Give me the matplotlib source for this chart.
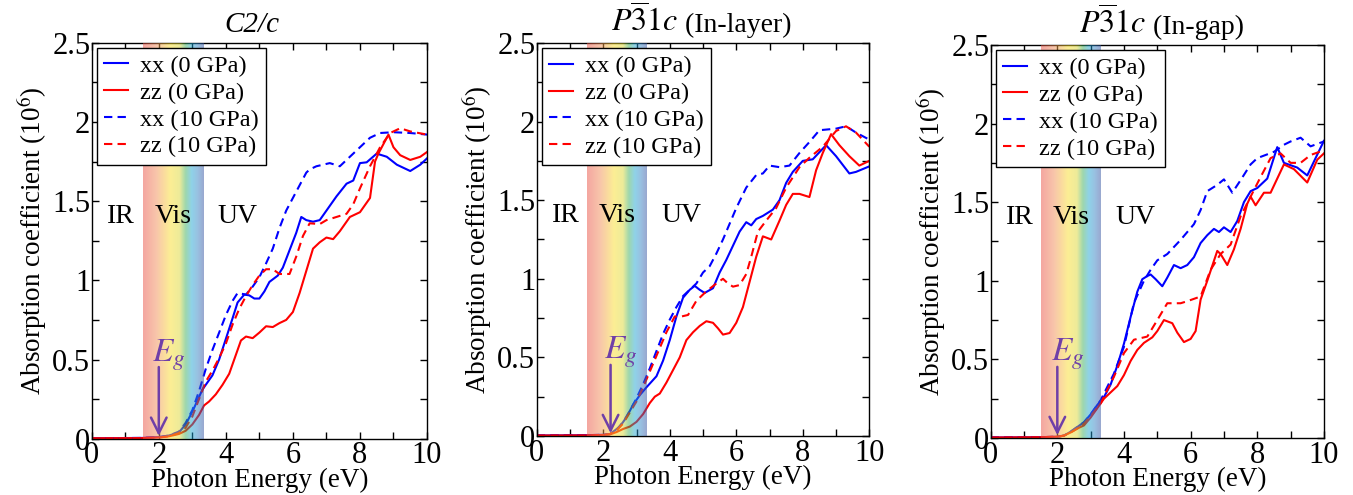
import numpy as np
import matplotlib
matplotlib.use("Agg")
import matplotlib.pyplot as plt
from matplotlib.colors import LinearSegmentedColormap
from matplotlib.ticker import MultipleLocator, FormatStrFormatter

plt.rcParams['font.family'] = ['Liberation Serif', 'DejaVu Serif']
plt.rcParams['mathtext.fontset'] = 'stix'

# ---- C2/c ----
c2c_xx0_e = [0, 1.5, 2.0, 2.3, 2.6, 2.8, 3.0, 3.3, 3.6, 3.8, 4.0, 4.2, 4.35, 4.55, 4.7, 4.85, 5.0, 5.15, 5.3, 5.55, 5.7, 5.9, 6.1, 6.25, 6.4, 6.6, 6.8, 7.0, 7.3, 7.6, 7.8, 8.0, 8.2, 8.5, 8.8, 9.1, 9.5, 9.8, 10]
c2c_xx0_v = [0.003, 0.005, 0.01, 0.02, 0.04, 0.09, 0.17, 0.31, 0.40, 0.50, 0.63, 0.76, 0.86, 0.91, 0.905, 0.885, 0.885, 0.93, 0.99, 1.03, 1.08, 1.19, 1.30, 1.40, 1.38, 1.37, 1.38, 1.44, 1.53, 1.61, 1.63, 1.74, 1.745, 1.80, 1.78, 1.73, 1.69, 1.73, 1.77]
c2c_zz0_e = [0, 1.5, 2.0, 2.3, 2.6, 2.8, 3.0, 3.2, 3.35, 3.5, 3.7, 3.9, 4.1, 4.3, 4.45, 4.6, 4.8, 5.0, 5.2, 5.4, 5.6, 5.8, 6.0, 6.2, 6.4, 6.6, 6.8, 7.0, 7.2, 7.4, 7.7, 8.0, 8.2, 8.3, 8.45, 8.55, 8.85, 9.0, 9.2, 9.5, 9.8, 10]
c2c_zz0_v = [0.003, 0.004, 0.008, 0.015, 0.03, 0.05, 0.09, 0.15, 0.21, 0.235, 0.28, 0.34, 0.41, 0.53, 0.62, 0.645, 0.635, 0.67, 0.71, 0.705, 0.73, 0.75, 0.80, 0.92, 1.06, 1.20, 1.24, 1.27, 1.26, 1.31, 1.40, 1.43, 1.49, 1.52, 1.75, 1.80, 1.92, 1.84, 1.79, 1.76, 1.78, 1.81]
c2c_xx10_e = [0, 1.5, 2.0, 2.3, 2.6, 2.8, 3.0, 3.2, 3.4, 3.6, 3.8, 4.0, 4.2, 4.35, 4.6, 4.8, 5.0, 5.2, 5.4, 5.6, 5.8, 6.0, 6.2, 6.4, 6.5, 6.7, 7.1, 7.4, 7.7, 8.0, 8.3, 8.6, 9.0, 9.5, 10]
c2c_xx10_v = [0.003, 0.005, 0.01, 0.02, 0.045, 0.1, 0.18, 0.30, 0.44, 0.56, 0.67, 0.78, 0.87, 0.92, 0.91, 0.96, 1.02, 1.107, 1.20, 1.33, 1.44, 1.52, 1.60, 1.68, 1.70, 1.72, 1.74, 1.72, 1.78, 1.84, 1.90, 1.93, 1.935, 1.93, 1.92]
c2c_zz10_e = [0, 1.5, 2.0, 2.3, 2.6, 2.8, 3.0, 3.2, 3.4, 3.6, 3.8, 4.0, 4.2, 4.4, 4.6, 4.8, 5.0, 5.2, 5.4, 5.6, 5.9, 6.1, 6.3, 6.5, 6.8, 7.0, 7.3, 7.6, 7.8, 8.0, 8.3, 8.6, 8.9, 9.2, 9.5, 10]
c2c_zz10_v = [0.003, 0.004, 0.008, 0.015, 0.035, 0.07, 0.14, 0.25, 0.36, 0.43, 0.51, 0.60, 0.72, 0.82, 0.90, 0.97, 1.03, 1.07, 1.07, 1.04, 1.04, 1.15, 1.28, 1.36, 1.355, 1.38, 1.40, 1.42, 1.48, 1.58, 1.72, 1.84, 1.93, 1.96, 1.94, 1.92]

# ---- P-31c (In-layer) ----
lay_xx0_e = [0, 1.5, 2.0, 2.2, 2.5, 2.7, 2.9, 3.1, 3.3, 3.6, 3.8, 4.0, 4.2, 4.4, 4.6, 4.75, 4.9, 5.05, 5.3, 5.5, 5.7, 5.9, 6.1, 6.3, 6.45, 6.6, 6.8, 7.1, 7.3, 7.5, 7.7, 8.0, 8.3, 8.7, 9.0, 9.4, 9.6, 10]
lay_xx0_v = [0.003, 0.005, 0.008, 0.012, 0.06, 0.12, 0.20, 0.26, 0.31, 0.38, 0.48, 0.61, 0.76, 0.88, 0.93, 0.955, 0.93, 0.91, 0.94, 1.04, 1.12, 1.21, 1.30, 1.36, 1.34, 1.38, 1.40, 1.44, 1.50, 1.61, 1.68, 1.75, 1.76, 1.85, 1.78, 1.67, 1.68, 1.715]
lay_zz0_e = [0, 1.5, 2.0, 2.2, 2.4, 2.6, 2.8, 3.0, 3.2, 3.4, 3.55, 3.7, 3.9, 4.1, 4.3, 4.5, 4.7, 4.9, 5.1, 5.3, 5.45, 5.6, 5.8, 6.0, 6.2, 6.4, 6.6, 6.8, 7.05, 7.3, 7.5, 7.7, 7.9, 8.2, 8.4, 8.6, 8.85, 9.1, 9.4, 9.7, 10]
lay_zz0_v = [0.003, 0.004, 0.006, 0.01, 0.025, 0.045, 0.06, 0.09, 0.14, 0.21, 0.25, 0.27, 0.34, 0.42, 0.50, 0.61, 0.66, 0.70, 0.73, 0.72, 0.685, 0.645, 0.655, 0.72, 0.82, 0.98, 1.14, 1.27, 1.25, 1.37, 1.47, 1.54, 1.54, 1.52, 1.69, 1.80, 1.92, 1.85, 1.78, 1.72, 1.75]
lay_xx10_e = [0, 1.5, 2.0, 2.2, 2.4, 2.6, 2.8, 3.0, 3.2, 3.4, 3.6, 3.8, 4.0, 4.2, 4.4, 4.6, 4.8, 5.0, 5.2, 5.4, 5.6, 5.8, 6.0, 6.3, 6.6, 6.8, 7.0, 7.3, 7.6, 7.9, 8.2, 8.5, 9.0, 9.3, 9.6, 10]
lay_xx10_v = [0.003, 0.005, 0.008, 0.012, 0.04, 0.09, 0.16, 0.24, 0.33, 0.43, 0.54, 0.65, 0.74, 0.82, 0.89, 0.93, 0.97, 1.04, 1.08, 1.16, 1.25, 1.35, 1.45, 1.58, 1.66, 1.67, 1.72, 1.71, 1.72, 1.80, 1.87, 1.945, 1.955, 1.97, 1.93, 1.885]
lay_zz10_e = [0, 1.5, 2.0, 2.2, 2.4, 2.6, 2.8, 3.0, 3.2, 3.4, 3.7, 3.9, 4.15, 4.35, 4.55, 4.8, 5.1, 5.4, 5.6, 5.75, 5.9, 6.1, 6.3, 6.45, 6.65, 6.9, 7.2, 7.5, 7.9, 8.2, 8.6, 9.0, 9.3, 9.6, 10]
lay_zz10_v = [0.003, 0.004, 0.007, 0.012, 0.035, 0.08, 0.15, 0.22, 0.31, 0.41, 0.56, 0.66, 0.76, 0.76, 0.77, 0.86, 0.92, 0.97, 1.0, 0.97, 0.95, 0.96, 1.03, 1.14, 1.30, 1.37, 1.45, 1.58, 1.71, 1.77, 1.84, 1.94, 1.97, 1.93, 1.84]

# ---- P-31c (In-gap) ----
gap_xx0_e = [0, 1.5, 2.0, 2.2, 2.4, 2.6, 2.8, 3.0, 3.2, 3.4, 3.6, 3.8, 4.0, 4.2, 4.4, 4.55, 4.7, 4.8, 4.95, 5.15, 5.3, 5.5, 5.7, 5.9, 6.1, 6.3, 6.5, 6.7, 6.85, 7.0, 7.2, 7.4, 7.6, 7.8, 8.0, 8.3, 8.6, 8.8, 9.2, 9.5, 10]
gap_xx0_v = [0.003, 0.005, 0.008, 0.015, 0.04, 0.07, 0.10, 0.15, 0.21, 0.26, 0.34, 0.46, 0.60, 0.77, 0.93, 1.01, 1.03, 1.04, 1.01, 0.965, 1.02, 1.10, 1.08, 1.10, 1.15, 1.24, 1.29, 1.33, 1.31, 1.34, 1.31, 1.38, 1.50, 1.57, 1.59, 1.65, 1.85, 1.75, 1.72, 1.67, 1.89]
gap_zz0_e = [0, 1.5, 2.0, 2.2, 2.4, 2.6, 2.8, 3.0, 3.2, 3.4, 3.6, 3.8, 4.0, 4.2, 4.4, 4.6, 4.85, 5.0, 5.2, 5.45, 5.6, 5.8, 6.0, 6.15, 6.3, 6.5, 6.8, 6.9, 7.1, 7.3, 7.5, 7.7, 7.8, 7.95, 8.2, 8.4, 8.8, 9.1, 9.5, 9.8, 10]
gap_zz0_v = [0.003, 0.005, 0.008, 0.015, 0.035, 0.06, 0.08, 0.13, 0.19, 0.25, 0.29, 0.33, 0.40, 0.49, 0.56, 0.605, 0.64, 0.68, 0.75, 0.73, 0.67, 0.61, 0.63, 0.68, 0.88, 1.0, 1.19, 1.17, 1.10, 1.20, 1.33, 1.49, 1.535, 1.48, 1.56, 1.56, 1.74, 1.71, 1.625, 1.77, 1.81]
gap_xx10_e = [0, 1.5, 2.0, 2.2, 2.4, 2.6, 2.8, 3.0, 3.3, 3.7, 4.0, 4.3, 4.6, 4.8, 5.0, 5.3, 5.7, 6.1, 6.3, 6.5, 6.8, 7.0, 7.25, 7.5, 7.8, 8.0, 8.5, 8.8, 9.0, 9.3, 9.6, 10]
gap_xx10_v = [0.003, 0.005, 0.008, 0.015, 0.04, 0.07, 0.10, 0.15, 0.24, 0.41, 0.58, 0.86, 1.0, 1.07, 1.13, 1.17, 1.26, 1.36, 1.45, 1.57, 1.61, 1.645, 1.56, 1.64, 1.74, 1.78, 1.82, 1.865, 1.886, 1.91, 1.855, 1.886]
gap_zz10_e = [0, 1.5, 2.0, 2.2, 2.4, 2.6, 2.8, 3.0, 3.3, 3.7, 4.0, 4.3, 4.7, 5.0, 5.3, 5.7, 5.9, 6.3, 6.6, 6.9, 7.2, 7.5, 7.8, 8.1, 8.4, 8.7, 9.0, 9.3, 9.6, 10]
gap_zz10_v = [0.003, 0.005, 0.008, 0.015, 0.035, 0.06, 0.09, 0.14, 0.22, 0.39, 0.54, 0.625, 0.645, 0.75, 0.857, 0.857, 0.87, 0.90, 1.07, 1.17, 1.23, 1.41, 1.535, 1.66, 1.78, 1.81, 1.75, 1.75, 1.80, 1.83]

labels = ["xx (0 GPa)", "zz (0 GPa)", "xx (10 GPa)", "zz (10 GPa)"]
gap_energy = [2.0, 2.22, 2.0]
vis_range = [1.52, 3.32]

# rainbow band (visible light)
band_cmap = LinearSegmentedColormap.from_list("vis", [
    (0.00, (233/255, 77/255, 65/255)),
    (0.22, (241/255, 140/255, 85/255)),
    (0.45, (249/255, 221/255, 40/255)),
    (0.60, (220/255, 215/255, 50/255)),
    (0.70, (60/255, 175/255, 90/255)),
    (0.80, (30/255, 165/255, 210/255)),
    (0.90, (50/255, 130/255, 195/255)),
    (1.00, (50/255, 80/255, 160/255)),
])
purple = "#6f3fa8"

fig = plt.figure(figsize=(13.53, 4.95), dpi=100)
positions = [[0.0678, 0.1137, 0.2478, 0.80],
             [0.3967, 0.1192, 0.2458, 0.794],
             [0.7322, 0.1152, 0.2463, 0.794]]

panels = [
    [(c2c_xx0_e, c2c_xx0_v), (c2c_zz0_e, c2c_zz0_v), (c2c_xx10_e, c2c_xx10_v), (c2c_zz10_e, c2c_zz10_v)],
    [(lay_xx0_e, lay_xx0_v), (lay_zz0_e, lay_zz0_v), (lay_xx10_e, lay_xx10_v), (lay_zz10_e, lay_zz10_v)],
    [(gap_xx0_e, gap_xx0_v), (gap_zz0_e, gap_zz0_v), (gap_xx10_e, gap_xx10_v), (gap_zz10_e, gap_zz10_v)],
]
colors = ["#0000ff", "#ff0000", "#0000ff", "#ff0000"]
styles = ["-", "-", (0, (4, 2.5)), (0, (4, 2.5))]

for i in range(3):
    ax = fig.add_axes(positions[i])
    for j in range(4):
        ax.plot(panels[i][j][0], panels[i][j][1], color=colors[j], linestyle=styles[j],
                lw=1.5, label=labels[j], zorder=2)

    grad = np.linspace(0, 1, 256).reshape(1, -1)
    ax.imshow(grad, cmap=band_cmap, extent=[vis_range[0], vis_range[1], 0, 2.5],
              aspect='auto', alpha=0.5, zorder=3, interpolation='bilinear')

    ax.text(0.87, 1.40, "IR", fontsize=20, ha='center', va='center')
    ax.text(2.43, 1.40, "Vis", fontsize=20, ha='center', va='center', zorder=4)
    ax.text(4.34, 1.40, "UV", fontsize=20, ha='center', va='center')

    eg = gap_energy[i]
    ax.annotate("", xy=(eg, 0.0), xytext=(eg, 0.47),
                arrowprops=dict(arrowstyle='->', color=purple, lw=1.8, mutation_scale=28),
                zorder=6)
    ax.text(eg - 0.19, 0.49, r"$E_g$", color=purple, fontsize=24, ha='left', va='baseline', zorder=6)

    ax.set_xlim(0, 10)
    ax.set_ylim(0, 2.5)
    ax.xaxis.set_major_locator(MultipleLocator(2))
    ax.xaxis.set_minor_locator(MultipleLocator(1))
    ax.yaxis.set_major_locator(MultipleLocator(0.5))
    ax.yaxis.set_minor_locator(MultipleLocator(0.25))
    ax.yaxis.set_major_formatter(FormatStrFormatter('%g'))
    ax.tick_params(which='both', direction='in', top=True, right=True, length=5, width=1)
    ax.tick_params(axis='x', labelsize=22, pad=2)
    ax.tick_params(axis='y', labelsize=22, pad=1)
    for s in ax.spines.values():
        s.set_linewidth(1)

    ax.set_xlabel("Photon Energy (eV)", fontsize=19.5, labelpad=-2)
    ax.set_ylabel(r"Absorption coefficient (10$^6$)", fontsize=19.5, labelpad=2)

    leg = ax.legend(loc='upper left', fontsize=17.5, handlelength=1.0, handletextpad=0.5,
                    labelspacing=0.2, borderpad=0.3, borderaxespad=0.2,
                    fancybox=False, framealpha=1, edgecolor='black')
    leg.get_frame().set_linewidth(1)
    leg.set_zorder(10)

    if i == 0:
        ax.text(0.477, 1.028, "C2/c", style='italic', fontsize=21, ha='center', va='baseline',
                transform=ax.transAxes)
    else:
        split = [0, 0.425, 0.466][i]
        extra = ["", " (In-layer)", " (In-gap)"][i]
        ax.text(split, 1.028, r"$P\overline{3}1c$", fontsize=23, ha='right', va='baseline',
                transform=ax.transAxes)
        ax.text(split, 1.028, extra, fontsize=20, ha='left', va='baseline',
                transform=ax.transAxes)

fig.savefig("out.png", dpi=100)
